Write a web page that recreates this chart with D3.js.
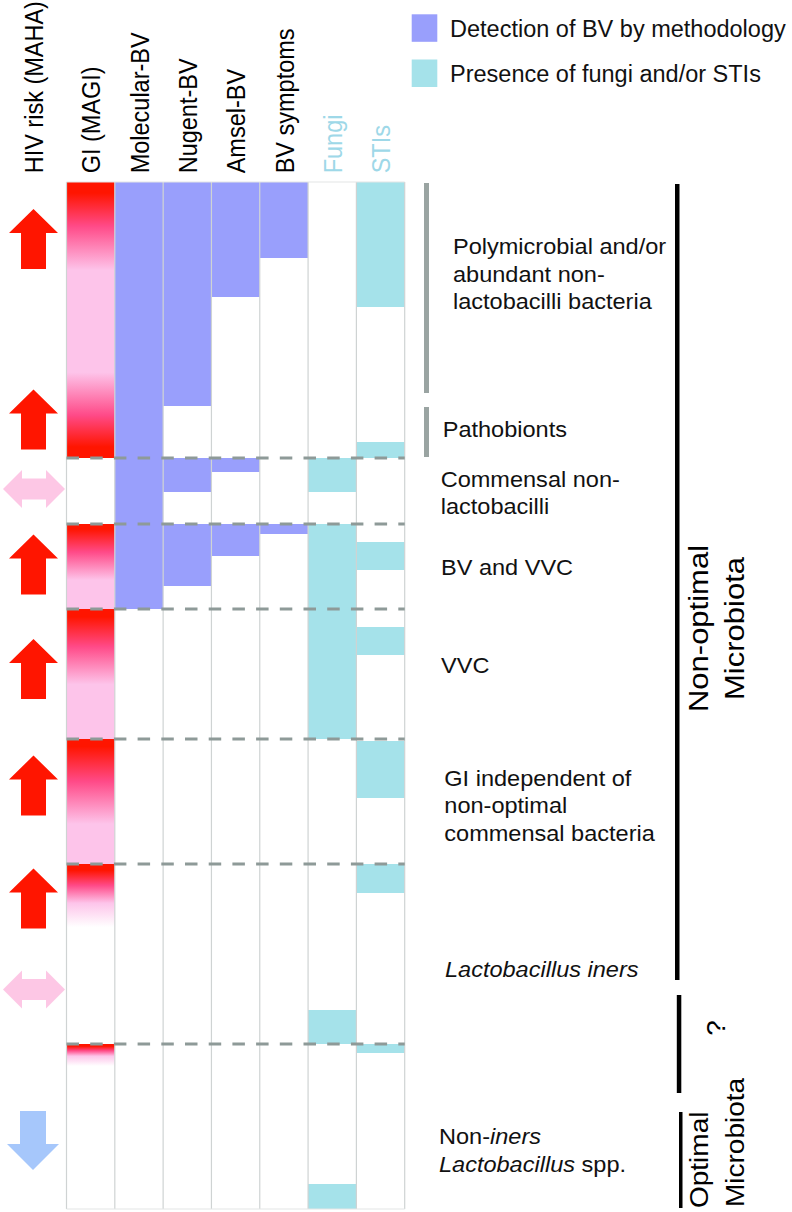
<!DOCTYPE html>
<html><head><meta charset="utf-8">
<script src="https://cdn.jsdelivr.net/npm/d3@7"></script>
<style>
body{margin:0;background:#fff}
svg{display:block;font-family:Arial,"Liberation Sans",Helvetica,sans-serif}
</style>
</head><body><svg id="c" width="792" height="1212"></svg>
<script>
// ---------------- data ----------------
const columns = ["GI (MAGI)", "Molecular-BV", "Nugent-BV", "Amsel-BV", "BV symptoms", "Fungi", "STIs"];
const leftHeader = "HIV risk (MAHA)";
// positions along the ordered sample axis (0 = top, 1027 = bottom)
const axisMax = 1027;
const molecularBV = [[0, 427]];
const nugentBV = [[0, 224], [276, 310], [342, 404]];
const amselBV = [[0, 115], [276, 290], [342, 374]];
const bvSymptoms = [[0, 76], [342, 352]];
const fungi = [[276, 310], [342, 557], [828, 862], [1002, 1027]];
const stis = [[0, 125], [260, 276], [360, 388], [445, 473], [559, 616], [682, 711], [862, 871]];
// genital inflammation (GI) intensity segments
const giStart = [0, 342, 427, 557, 682, 862];
const giEnd = [276, 427, 557, 682, 745, 884];
const giPinkFrom = [0.32, 0.66, 0.58, 0.68, 0.62, 0.55];
const giTail = ["red", "pink", "pink", "pink", "white", "white"];
const groupBoundaries = [276, 342, 427, 557, 682, 862];
// HIV risk arrows
const riskPos = [57, 237.5, 307, 382.5, 487, 603.5, 716.5, 807.5, 958.5];
const riskType = ["up", "up", "neutral", "up", "up", "up", "up", "neutral", "down"];
// group labels
const groupLabels = [
  ["Polymicrobial and/or", "abundant non-", "lactobacilli bacteria"],
  ["Pathobionts"],
  ["Commensal non-", "lactobacilli"],
  ["BV and VVC"],
  ["VVC"],
  ["GI independent of", "non-optimal", "commensal bacteria"],
  ["*Lactobacillus iners*"],
  ["Non-*iners*", "*Lactobacillus* spp."]
];
const groupLabelPos = [72.3, 254.7, 304.7, 393, 491, 603.7, 795.3, 962.3];
const clusterBrackets = [[1, 211], [225, 275]];
const microbiotaBrackets = [[2, 798], [813, 911], [930, 1026]];
const legendItems = ["Detection of BV by methodology", "Presence of fungi and/or STIs"];

// ---------------- styles ----------------
const RED = "#ff1500", PINK = "#fdc4ea", HOT = "#ff4a88";
const PURPLE = "#999ffc", CYAN = "#a5e2ea";
const ARROW_PINK = "#fdc7e5", ARROW_BLUE = "#a6c7fb";

const svg = d3.select("#c");
const y = d3.scaleLinear().domain([0, axisMax]).range([182, 1209]);
const x = d3.scaleBand().domain(columns).range([66.5, 404.7]).padding(0);
const bw = x.bandwidth();

function stext(g, px, py, str, size, sx, rot, anchor) {
  const t = g.append("text")
    .attr("transform", `translate(${px},${py}) scale(${sx},1)` + (rot ? ` rotate(${rot})` : ""))
    .attr("font-size", size)
    .attr("text-anchor", anchor || "start");
  const parts = str.split("*");
  parts.forEach((p, i) => {
    if (p.length) t.append("tspan").attr("font-style", i % 2 ? "italic" : "normal").text(p);
  });
  return t;
}

// gradients for GI segments
const defs = svg.append("defs");
giStart.forEach((s, i) => {
  const g = defs.append("linearGradient").attr("id", "gi" + i)
    .attr("x1", 0).attr("y1", 0).attr("x2", 0).attr("y2", 1);
  const p = giPinkFrom[i];
  let stops;
  if (giTail[i] === "red") {
    const q = 0.69;
    stops = [[0, RED], [0.04, RED], [p * 0.5, HOT], [p, PINK], [q, PINK], [q + (1 - q) * 0.5, HOT], [0.96, RED], [1, RED]];
  } else if (giTail[i] === "pink") {
    stops = [[0, RED], [0.06, RED], [p * 0.5, HOT], [p, PINK], [1, PINK]];
  } else {
    stops = [[0, RED], [0.1, RED], [p * 0.55, HOT], [p, PINK], [1, "#ffffff"]];
  }
  stops.forEach(([o, c]) => g.append("stop").attr("offset", o).attr("stop-color", c));
});

// ---------------- grid fills ----------------
const fills = svg.append("g");
giStart.forEach((s, i) => {
  fills.append("rect").attr("x", x("GI (MAGI)")).attr("width", bw)
    .attr("y", y(s)).attr("height", y(giEnd[i]) - y(s))
    .attr("fill", `url(#gi${i})`);
});
const bvSeries = [["Molecular-BV", molecularBV], ["Nugent-BV", nugentBV], ["Amsel-BV", amselBV], ["BV symptoms", bvSymptoms]];
bvSeries.forEach(([col, arr]) => {
  fills.selectAll(null).data(arr).enter().append("rect")
    .attr("x", x(col)).attr("width", bw)
    .attr("y", d => y(d[0])).attr("height", d => y(d[1]) - y(d[0]))
    .attr("fill", PURPLE);
});
[["Fungi", fungi], ["STIs", stis]].forEach(([col, arr]) => {
  fills.selectAll(null).data(arr).enter().append("rect")
    .attr("x", x(col)).attr("width", bw)
    .attr("y", d => y(d[0])).attr("height", d => y(d[1]) - y(d[0]))
    .attr("fill", CYAN);
});

// grid lines
const grid = svg.append("g").attr("stroke", "#cfd3d3").attr("stroke-width", 1.2).attr("fill", "none");
const bounds = columns.map(c => x(c)).concat([x.range()[1]]);
grid.selectAll(null).data(bounds).enter().append("line")
  .attr("x1", d => d).attr("x2", d => d).attr("y1", y(0)).attr("y2", y(axisMax));
grid.append("line").attr("x1", bounds[0]).attr("x2", bounds[bounds.length - 1]).attr("y1", y(0)).attr("y2", y(0)).attr("stroke", "#e3e6e6");
grid.append("line").attr("x1", bounds[0]).attr("x2", bounds[bounds.length - 1]).attr("y1", y(axisMax)).attr("y2", y(axisMax)).attr("stroke", "#e3e6e6");

// dashed group boundaries
svg.append("g").selectAll(null).data(groupBoundaries).enter().append("line")
  .attr("x1", bounds[0]).attr("x2", bounds[bounds.length - 1])
  .attr("y1", d => y(d)).attr("y2", d => y(d))
  .attr("stroke", "#8e9a98").attr("stroke-width", 3).attr("stroke-dasharray", "12.5,11.2");

// ---------------- headers ----------------
const hdr = svg.append("g");
stext(hdr, 43.3, 173.3, leftHeader, 23.5, 1.08, -90).attr("fill", "#000");
columns.forEach(c => {
  stext(hdr, x(c) + bw / 2 + 9.8, 173.3, c, 23.5, 1.08, -90)
    .attr("fill", (c === "Fungi" || c === "STIs") ? "#9ed8e8" : "#000");
});

// ---------------- arrows ----------------
function arrowPath(type, cx, cy) {
  if (type === "up") return [[cx, cy - 30], [cx + 24.5, cy - 6], [cx + 12.5, cy - 6], [cx + 12.5, cy + 30], [cx - 12.5, cy + 30], [cx - 12.5, cy - 6], [cx - 24.5, cy - 6]];
  if (type === "down") return [[cx - 13, cy - 29.5], [cx + 13, cy - 29.5], [cx + 13, cy + 3.5], [cx + 26, cy + 3.5], [cx, cy + 29.5], [cx - 26, cy + 3.5], [cx - 13, cy + 3.5]];
  return [[cx - 31, cy], [cx - 12, cy - 19], [cx - 12, cy - 10.5], [cx + 12, cy - 10.5], [cx + 12, cy - 19], [cx + 31, cy], [cx + 12, cy + 19], [cx + 12, cy + 10.5], [cx - 12, cy + 10.5], [cx - 12, cy + 19]];
}
const line = d3.line();
svg.append("g").selectAll(null).data(riskPos.map((p, i) => ({p, t: riskType[i]}))).enter().append("path")
  .attr("d", d => line(arrowPath(d.t, d.t === "up" ? 33.5 : (d.t === "down" ? 33 : 34), y(d.p))) + "Z")
  .attr("fill", d => d.t === "up" ? RED : (d.t === "down" ? ARROW_BLUE : ARROW_PINK));

// ---------------- right side ----------------
const right = svg.append("g");
right.selectAll(null).data(clusterBrackets).enter().append("rect")
  .attr("x", 424).attr("width", 5).attr("y", d => y(d[0])).attr("height", d => y(d[1]) - y(d[0]))
  .attr("fill", "#9aa4a2");
const mbX = [675, 676.8, 679];
const mbW = [4.5, 4.5, 3.5];
right.selectAll(null).data(microbiotaBrackets).enter().append("rect")
  .attr("x", (d, i) => mbX[i]).attr("width", (d, i) => mbW[i])
  .attr("y", d => y(d[0])).attr("height", d => y(d[1]) - y(d[0]))
  .attr("fill", "#000");

const labelX = [453, 442.7, 440.7, 441, 441, 444.3, 445, 439];
groupLabels.forEach((lines, i) => {
  lines.forEach((ln, j) => {
    stext(right, labelX[i], y(groupLabelPos[i]) + j * 27.5, ln, 22, 1.07, 0).attr("fill", "#111");
  });
});

// vertical microbiota labels
stext(right, 708.3, 628.5, "Non-optimal", 31, 0.87, -90, "middle");
stext(right, 744.3, 628.5, "Microbiota", 31, 0.87, -90, "middle");
stext(right, 724.5, 1028, "?", 28, 0.95, -90, "middle");
stext(right, 708.3, 1208, "Optimal", 28, 0.92, -90, "start");
stext(right, 744.3, 1207, "Microbiota", 28, 0.92, -90, "start");

// ---------------- legend ----------------
const leg = svg.append("g");
const legColors = [PURPLE, CYAN];
const legY = [14.3, 59.5];
legendItems.forEach((t, i) => {
  leg.append("rect").attr("x", 411.7).attr("y", legY[i]).attr("width", 25.6).attr("height", 27.5).attr("fill", legColors[i]);
  stext(leg, 450, legY[i] + 22.2, t, 23.5, 1, 0).attr("fill", "#111");
});
</script>
</body></html>
